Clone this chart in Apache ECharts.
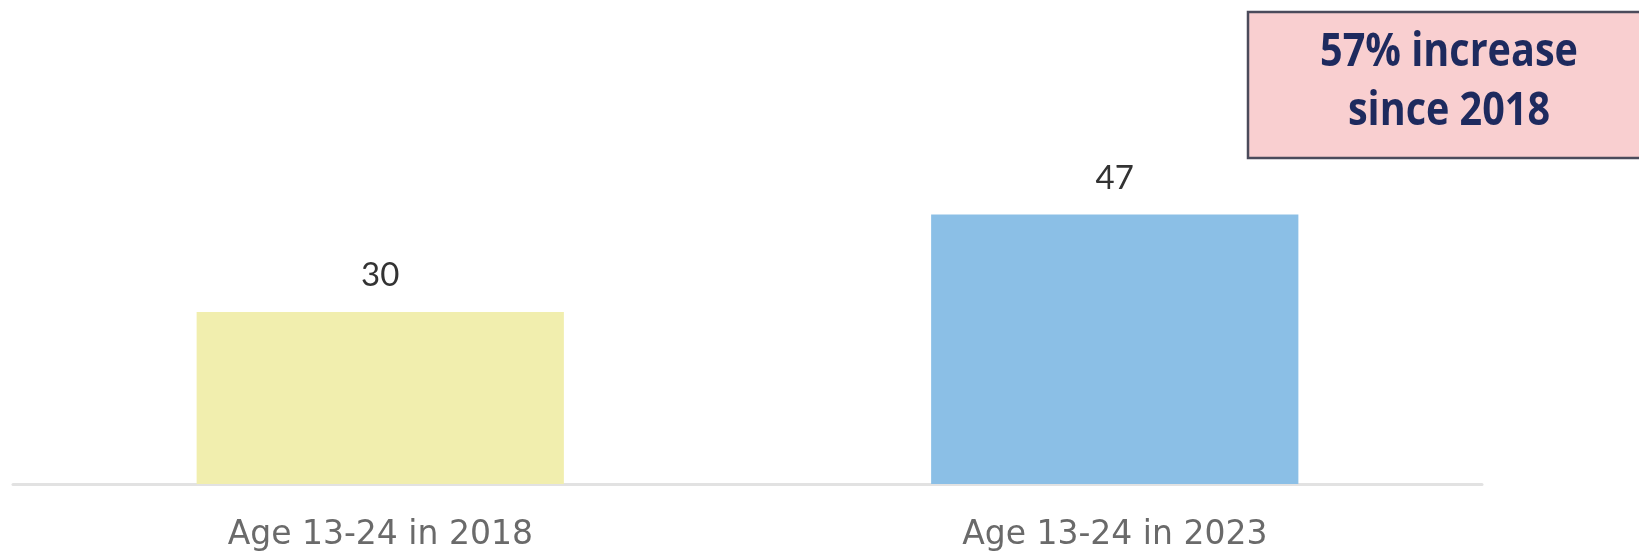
<!DOCTYPE html>
<html>
<head>
<meta charset="utf-8">
<style>
  html, body { margin: 0; padding: 0; background: #ffffff; }
  #chart { width: 1639px; height: 556px; }
</style>
<script src="https://cdn.jsdelivr.net/npm/echarts@6/dist/echarts.min.js"></script>
</head>
<body>
<div id="chart"></div>
<script>
// Counts by age group and year
const categories = ['Age 13-24 in 2018', 'Age 13-24 in 2023'];
const values = [30, 47];
const barColors = ['#f1eeae', '#8bbfe6'];
const calloutLines = ['57% increase', 'since 2018'];

const chart = echarts.init(document.getElementById('chart'));

chart.setOption({
  backgroundColor: '#ffffff',
  animation: false,
  grid: { left: 13, right: 157, top: 140, bottom: 72, containLabel: false },
  xAxis: {
    type: 'category',
    data: categories,
    axisTick: { show: false },
    axisLine: { show: true, lineStyle: { color: '#e2e2e2', width: 3 } },
    axisLabel: {
      margin: 35,
      color: '#6a6a6a',
      fontFamily: 'DejaVu Sans',
      fontSize: 33
    }
  },
  yAxis: {
    type: 'value',
    min: 0,
    max: 60,
    show: false,
    splitLine: { show: false }
  },
  series: [{
    type: 'bar',
    barWidth: '50%',
    data: values.map((v, i) => ({ value: v, itemStyle: { color: barColors[i] } })),
    label: {
      show: true,
      position: 'top',
      distance: 20,
      color: '#333333',
      fontFamily: 'Lato',
      fontSize: 33
    }
  }],
  graphic: [
    {
      type: 'rect',
      shape: { x: 1248, y: 12, width: 420, height: 146 },
      style: { fill: '#f9cfd0', stroke: '#4b4b5b', lineWidth: 2.5 },
      z: 10
    },
    {
      type: 'text',
      x: 1449, y: 53,
      scaleX: 0.86,
      style: {
        text: calloutLines[0],
        fill: '#1e2a5e',
        font: 'bold 46px "Open Sans"',
        textAlign: 'center',
        textVerticalAlign: 'middle'
      },
      z: 11
    },
    {
      type: 'text',
      x: 1449, y: 112,
      scaleX: 0.86,
      style: {
        text: calloutLines[1],
        fill: '#1e2a5e',
        font: 'bold 46px "Open Sans"',
        textAlign: 'center',
        textVerticalAlign: 'middle'
      },
      z: 11
    }
  ]
});
</script>
</body>
</html>
